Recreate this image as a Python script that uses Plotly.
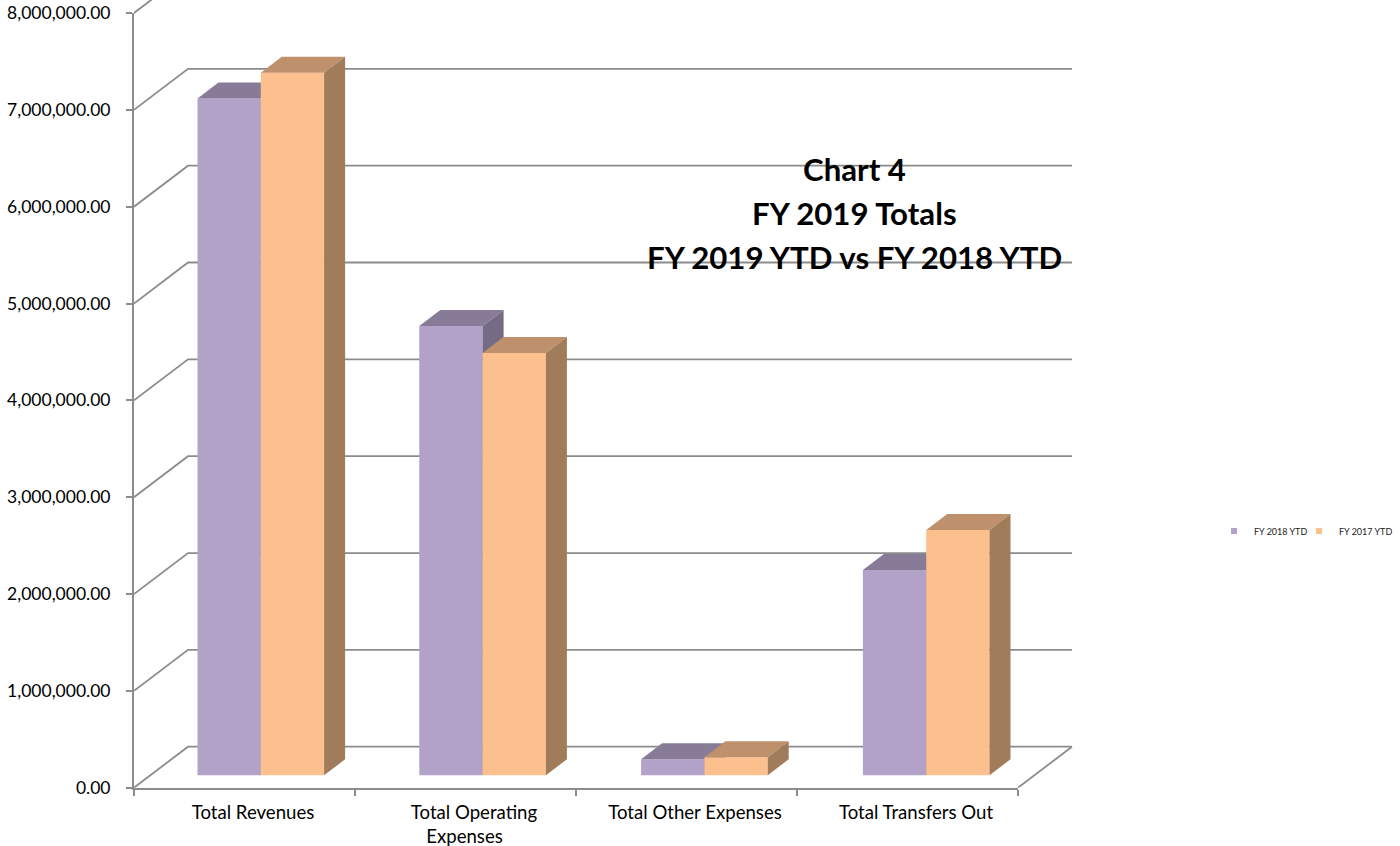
import plotly.graph_objects as go

categories = ["Total Revenues", "Total Operating Expenses", "Total Other Expenses", "Total Transfers Out"]
fy2018 = [6990000, 4640000, 165000, 2120000]
fy2017 = [7255000, 4360000, 186000, 2534000]
y_ticks = [0, 1000000, 2000000, 3000000, 4000000, 5000000, 6000000, 7000000, 8000000]

W, H = 1400, 846
L, R, T, B = 134, 1018, 13, 787.7
PX_X = (R - L) / 4.0            # pixels per category
PX_Y = (B - T) / 8000000.0      # pixels per value unit

wall_dx, wall_dy = 54 / PX_X, 41 / PX_Y
bar_dx, bar_dy = 21 / PX_X, 16 / PX_Y
floor_base = 12.4 / PX_Y
bar_w = 63.3 / PX_X
bar_start = 63.5 / PX_X
group_step = 221.8 / PX_X
label_shift = 8.5 / PX_X

GRID = "#8C8C8C"
PURPLE = ["#B3A2C7", "#887B98", "#766B84"]
ORANGE = ["#FCC08E", "#BE916C", "#A07C5B"]
FONT = "Lato, Carlito, Calibri, sans-serif"

# the long label wraps, and its second line sits left of centre as in the source chart
tick_labels = [c.replace("Operating Expenses", "Operating<br>Expenses\u00a0\u00a0\u00a0\u00a0") for c in categories]

fig = go.Figure()

# back wall and side wall gridlines: lines are always clipped to their subplot,
# so these sit on a larger subplot that reaches the page top and the wall's right end
gx, gy = [], []
for v in y_ticks:
    gx += [0, wall_dx, 4 + wall_dx, None]
    gy += [v, v + wall_dy, v + wall_dy, None]
gx += [4, 4 + wall_dx, None]
gy += [0, wall_dy, None]
fig.add_trace(go.Scatter(x=gx, y=gy, mode="lines", line=dict(color=GRID, width=1.8),
                         hoverinfo="skip", showlegend=False, xaxis="x", yaxis="y"))

# legend entries, one legend each so that their spacing can follow the reference
for name, c, lg in (("FY 2018 YTD", PURPLE[0], "legend"), ("FY 2017 YTD", ORANGE[0], "legend2")):
    fig.add_trace(go.Scatter(x=[None], y=[None], mode="markers", name=name, legend=lg,
                             marker=dict(symbol="square", size=6, color=c), xaxis="x2", yaxis="y2"))


def add_series(values, colors, slot, xa, ya, name):
    xs = [i * group_step + bar_start + slot * bar_w for i in range(len(values))]
    fig.add_trace(go.Bar(x=[x + bar_w / 2 for x in xs], y=values, base=floor_base, width=bar_w,
                         marker=dict(color=colors[0], line=dict(width=0)), name=name,
                         showlegend=False, xaxis=xa, yaxis=ya))
    tx, ty, sx, sy = [], [], [], []
    for x0, v in zip(xs, values):
        x1 = x0 + bar_w
        t = floor_base + v
        tx += [x0, x1, x1 + bar_dx, x0 + bar_dx, x0, None]
        ty += [t, t, t + bar_dy, t + bar_dy, t, None]
        sx += [x1, x1 + bar_dx, x1 + bar_dx, x1, x1, None]
        sy += [floor_base, floor_base + bar_dy, t + bar_dy, t, floor_base, None]
    for px, py, c in ((tx, ty, colors[1]), (sx, sy, colors[2])):
        fig.add_trace(go.Scatter(x=px, y=py, mode="lines", fill="toself", fillcolor=c,
                                 line=dict(width=0, color=c),
                                 hoverinfo="skip", showlegend=False, xaxis=xa, yaxis=ya))


add_series(fy2018, PURPLE, 0, "x3", "y3", "FY 2018 YTD")
add_series(fy2017, ORANGE, 1, "x4", "y4", "FY 2017 YTD")

dom_x = [L / W, R / W]
dom_y = [1 - B / H, 1 - T / H]
hidden = dict(range=[0, 4], domain=dom_x, visible=False, fixedrange=True, automargin=False)
hidden_y = dict(range=[0, 8000000], domain=dom_y, visible=False, fixedrange=True, automargin=False)

GRID_R = 1076   # right edge in page pixels of the wider gridline subplot

title_lines = [("Chart 4", 169), ("FY 2019 Totals", 213), ("FY 2019 YTD vs FY 2018 YTD", 257)]
annotations = [
    dict(text=t, x=854 / W, y=1 - py / H, xref="paper", yref="paper", xanchor="center", yanchor="middle",
         showarrow=False, font=dict(family=FONT, size=31.2, color="black", weight="bold"))
    for t, py in title_lines
]

legend_style = dict(yanchor="middle", xanchor="left", y=1 - 531 / H, itemwidth=30,
                    font=dict(size=9, family=FONT, color="#222222"), bgcolor="rgba(0,0,0,0)")

fig.update_layout(
    width=W, height=H, autosize=False,
    margin=dict(l=0, r=0, t=0, b=0, pad=0),
    paper_bgcolor="white", plot_bgcolor="rgba(0,0,0,0)",
    font=dict(family=FONT, color="black"),
    barmode="overlay",
    xaxis=dict(domain=[L / W, GRID_R / W], range=[0, (GRID_R - L) / PX_X], anchor="y",
               visible=False, fixedrange=True, automargin=False),
    yaxis=dict(domain=[1 - B / H, 1], range=[0, B / PX_Y], anchor="x",
               visible=False, fixedrange=True, automargin=False),
    xaxis2=dict(range=[0, 4], domain=dom_x, anchor="y2", automargin=False, tickmode="array",
                tickvals=[i + 0.5 + label_shift for i in range(4)], ticktext=tick_labels,
                ticks="", showgrid=False, zeroline=False, showline=True, linecolor=GRID, linewidth=2,
                tickfont=dict(size=18.6, family=FONT, color="black"), ticklabelstandoff=7,
                minor=dict(tickmode="array", tickvals=[0, 1, 2, 3, 4], ticks="outside", ticklen=6,
                           tickwidth=1.5, tickcolor=GRID, showgrid=False),
                fixedrange=True),
    yaxis2=dict(range=[0, 8000000], domain=dom_y, anchor="x2", automargin=False, tickmode="array",
                tickvals=y_ticks, tickformat=",.2f",
                ticks="outside", ticklen=6, tickwidth=1.5, tickcolor=GRID,
                showgrid=False, zeroline=False, showline=True, linecolor=GRID, linewidth=2,
                tickfont=dict(size=17.5, family=FONT, color="black"), ticklabelstandoff=12,
                fixedrange=True),
    xaxis3=dict(overlaying="x2", **hidden), yaxis3=dict(overlaying="y2", **hidden_y),
    xaxis4=dict(overlaying="x2", **hidden), yaxis4=dict(overlaying="y2", **hidden_y),
    legend=dict(x=1214 / W, **legend_style),
    legend2=dict(x=1299 / W, **legend_style),
    annotations=annotations,
    showlegend=True,
)

fig.write_html("out.html", config=dict(displayModeBar=False),
               post_script="document.body.style.margin='0';document.documentElement.style.overflow='hidden';")
